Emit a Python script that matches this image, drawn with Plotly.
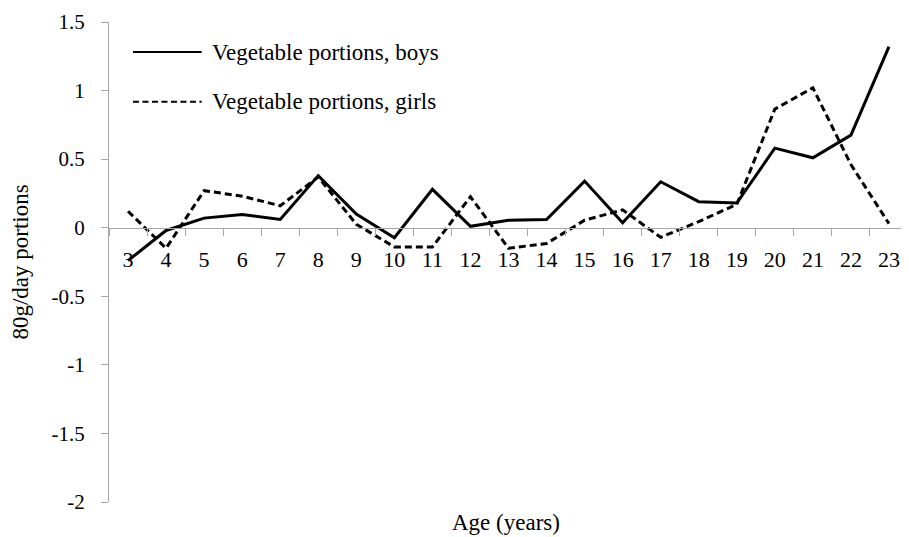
import plotly.graph_objects as go

ages = [str(a) for a in range(3, 24)]
boys = [-0.24, -0.02, 0.07, 0.097, 0.06, 0.38, 0.10, -0.073, 0.28, 0.01, 0.055,
        0.06, 0.34, 0.036, 0.335, 0.19, 0.18, 0.58, 0.51, 0.675, 1.32]
girls = [0.12, -0.15, 0.27, 0.23, 0.16, 0.37, 0.025, -0.14, -0.14, 0.226, -0.15,
         -0.115, 0.055, 0.13, -0.07, 0.045, 0.17, 0.865, 1.02, 0.46, 0.03]
ytick_vals = [1.5, 1, 0.5, 0, -0.5, -1, -1.5, -2]
ytick_text = ["1.5", "1", "0.5", "0", "-0.5", "-1", "-1.5", "-2"]
names = ["Vegetable portions, boys", "Vegetable portions, girls"]

FONT = "Liberation Serif"
GRAY = "#a6a6a6"
YMIN, YMAX = -2, 1.5

fig = go.Figure()
fig.add_trace(go.Scatter(x=ages, y=boys, mode="lines", name=names[0],
                         line=dict(color="black", width=3)))
fig.add_trace(go.Scatter(x=ages, y=girls, mode="lines", name=names[1],
                         line=dict(color="black", width=3, dash="7px,4px")))

# manual legend (line samples + text)
legend_rows = [(0.9375, "solid"), (0.834, "6px,3.5px")]
for (yy, dash), nm in zip(legend_rows, names):
    fig.add_shape(type="line", xref="paper", yref="paper",
                  x0=0.030, x1=0.116, y0=yy, y1=yy,
                  line=dict(color="black", width=2, dash=dash))
    fig.add_annotation(xref="paper", yref="paper", x=0.126, y=yy,
                       text=nm, showarrow=False, xanchor="left", yanchor="middle",
                       font=dict(family=FONT, size=23, color="black"))

fig.add_annotation(xref="paper", yref="paper", x=0.497, y=-0.0417,
                   text="Age (years)", showarrow=False, xanchor="center", yanchor="middle",
                   font=dict(family=FONT, size=23, color="black"))

fig.update_layout(
    width=901, height=529,
    margin=dict(l=101, r=1, t=14, b=35, autoexpand=False),
    paper_bgcolor="white", plot_bgcolor="white",
    showlegend=False,
    font=dict(family=FONT, size=21, color="black"),
    xaxis=dict(type="category", range=[-0.5, 20.5], showgrid=False, zeroline=False,
               showline=True, linecolor=GRAY, linewidth=1,
               ticks="outside", ticklen=7, tickcolor=GRAY, tickson="boundaries",
               anchor="free", position=(0 - YMIN) / (YMAX - YMIN),
               ticklabelstandoff=12,
               tickfont=dict(family=FONT, size=22, color="black")),
    yaxis=dict(range=[YMIN, YMAX], tickvals=ytick_vals, ticktext=ytick_text,
               showgrid=False, zeroline=False, showline=True, linecolor=GRAY, linewidth=1,
               ticks="outside", ticklen=7, tickcolor=GRAY, ticklabelstandoff=12,
               automargin=False,
               tickfont=dict(family=FONT, size=21, color="black"),
               title=dict(text="80g/day portions", standoff=20,
                          font=dict(family=FONT, size=23, color="black"))),
)

fig.write_html("out.html")
